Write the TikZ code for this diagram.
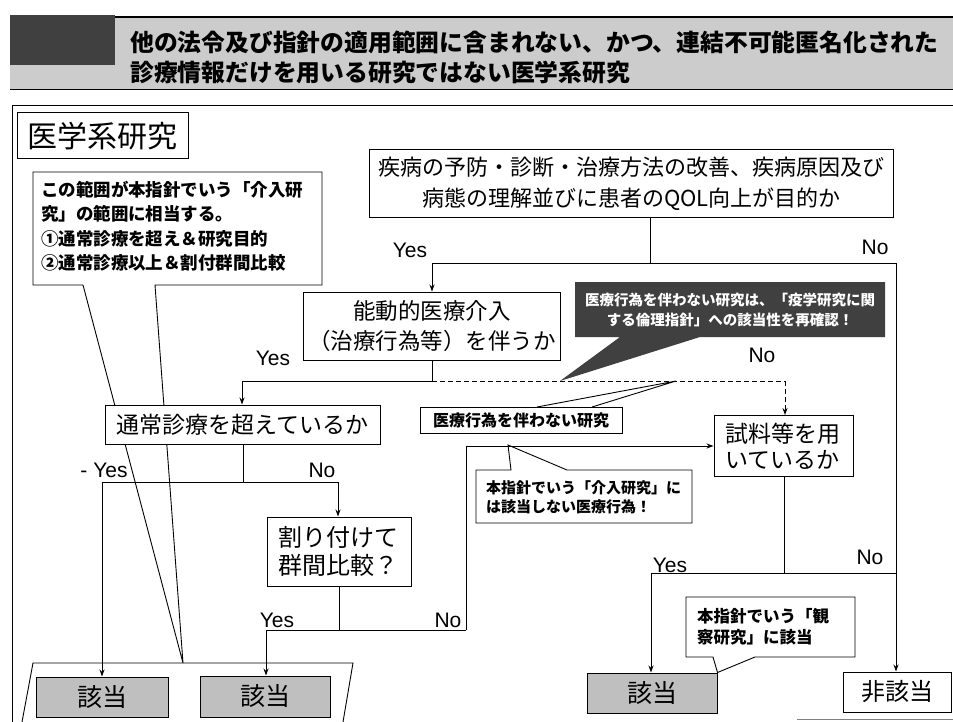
\documentclass[tikz,border=0pt]{standalone}
\usepackage{fontspec}
\setmainfont{Noto Sans CJK JP}
\newfontfamily\lat{Liberation Sans}
\usetikzlibrary{arrows.meta}
\newcommand{\fsz}[2]{\fontsize{#1}{#2}\selectfont}
\begin{document}
\begin{tikzpicture}[x=1pt,y=-1pt,
  box/.style={draw=black, line width=1pt, fill=white, inner sep=0pt, align=center},
  gbox/.style={box, fill=gray!50},
  txt/.style={inner sep=0pt, align=left},
  ln/.style={line width=0.9pt},
  conn/.style={line width=0.9pt, -{Stealth[length=7pt,width=5pt]}},
  lbl/.style={font=\lat\fsz{21}{23}, inner sep=0pt}]
\useasboundingbox (0,0) rectangle (953,722);
\fill[white] (0,0) rectangle (953,722);

% ---- title banner
\fill[gray!40] (10,17) rectangle (953,90);
\draw[line width=1.2pt] (115,17) -- (953,17);
\draw[line width=1pt] (10,90) -- (953,90);
\fill[black!75] (10,15) rectangle (115,65);
\node[txt, anchor=west, font=\bfseries\fsz{23.8}{26}] (t1) at (130,42) {他の法令及び指針の適用範囲に含まれない、かつ、連結不可能匿名化された};
\node[txt, anchor=west, font=\bfseries\fsz{23.8}{26}] (t2) at (130,72) {診療情報だけを用いる研究ではない医学系研究};

% ---- frame
\draw[ln] (12,722) -- (12,105) -- (953,105);
\draw[gray, line width=0.6pt] (797,719) -- (953,719);

% ---- nodes
\node[box, minimum width=171pt, minimum height=46pt, font=\fsz{30}{32}] (igaku) at (102.5,136) {医学系研究};

\node[txt, text width=273pt, minimum height=113pt, font=\bfseries\fsz{17.5}{24.5}] (note1) at (177.5,226) {この範囲が本指針でいう「介入研\\究」の範囲に相当する。\\①通常診療を超え＆研究目的\\②通常診療以上＆割付群間比較};
\draw[ln] (22,722) -- (33,663) -- (353,663) -- (343,722);
\coordinate (ntip) at (183,663);
\draw[ln] (33,172) -- (322,172) -- (322,285) -- (155,285) -- (ntip) -- (83,285) -- (33,285) -- cycle;

\node[box, minimum width=524pt, minimum height=68pt, font=\fsz{22}{31}] (q1) at (631.5,184) {疾病の予防・診断・治療方法の改善、疾病原因及び\\病態の理解並びに患者のQOL向上が目的か};

\node[box, minimum width=257pt, minimum height=68pt, font=\fsz{22.5}{30}] (noudou) at (432,326) {能動的医療介入\\（治療行為等）を伴うか};

\node[box, minimum width=275pt, minimum height=39pt, font=\fsz{23}{26}] (tsujo) at (242.5,424.5) {通常診療を超えているか};

\node[box, minimum width=144pt, minimum height=69pt, text width=122pt, align=left, font=\fsz{24}{28}] (wari) at (339,551.5) {割り付けて\\群間比較？};

\node[box, minimum width=139pt, minimum height=61pt, text width=116pt, align=left, font=\fsz{23}{26}] (shiryo) at (783.5,446) {試料等を用\\いているか};

\node[gbox, minimum width=132pt, minimum height=40pt, font=\fsz{25}{27}] (gaito1) at (102,697) {該当};
\node[gbox, minimum width=130pt, minimum height=41pt, font=\fsz{25}{27}] (gaito2) at (265,696.5) {該当};
\node[gbox, minimum width=130pt, minimum height=40pt, font=\fsz{25}{27}] (gaito3) at (652,693) {該当};
\node[box, minimum width=108pt, minimum height=40pt, font=\fsz{24}{26}] (higaito) at (897,692) {非該当};

% ---- dark callout
\fill[black!75] (575,282) -- (885,282) -- (885,337) -- (700,337) -- (560,381) -- (620,337) -- (575,337) -- cycle;
\node[txt, align=center, text=white, font=\bfseries\fsz{14.5}{20}] (dark) at (730,309.5) {医療行為を伴わない研究は、「疫学研究に関\\する倫理指針」への該当性を再確認！};

% ---- 医療行為 callout
\node[box, minimum width=202pt, minimum height=26pt, font=\bfseries\fsz{16}{18}] (iryo) at (521,420) {医療行為を伴わない研究};
\coordinate (irT) at (676,381);
\draw[ln] (537,407) -- (irT) -- (592,407);

% ---- 介入研究 callout
\node[txt, text width=196pt, minimum height=53pt, font=\bfseries\fsz{15}{19}] (kainyu) at (584,497) {本指針でいう「介入研究」に\\は該当しない医療行為！};
\coordinate (kT) at (508,445);
\draw[ln] (476,470) -- (511,470) -- (kT) -- (567,470) -- (692,470) -- (692,523) -- (476,523) -- cycle;

% ---- 観察研究 callout
\node[txt, text width=150pt, minimum height=60pt, font=\bfseries\fsz{16.5}{21}] (kansatsu) at (772,627) {本指針でいう「観\\察研究」に該当};
\draw[ln] (686,597) -- (855,597) -- (855,657) -- (755,657) -- (gaito3.north east) -- (713,657) -- (686,657) -- cycle;

% ---- connectors
\coordinate (j1) at (650,263);
\coordinate (j1L) at (432,263);
\coordinate (j1R) at (896,263);
\draw[ln] (q1.south -| j1) -- (j1);
\draw[ln] (j1L) -- (j1R);
\draw[conn] (j1L) -- (noudou.north -| j1L);
\draw[conn] (j1R) -- (higaito.north -| j1R);

\coordinate (j2) at (432,381);
\coordinate (j2L) at (242,381);
\coordinate (j2R) at (785,381);
\draw[ln] (noudou.south) -- (j2) -- (j2L);
\draw[conn] (j2L) -- (tsujo.north -| j2L);
\draw[ln, dashed, dash pattern=on 5pt off 3pt] (j2) -- (j2R);
\draw[conn, dash pattern=on 5pt off 3pt] (j2R) -- (shiryo.north -| j2R);

\coordinate (j3) at (243,482);
\coordinate (j3L) at (102,482);
\coordinate (j3R) at (338,482);
\draw[ln] (tsujo.south -| j3) -- (j3);
\draw[ln] (j3L) -- (j3R);
\draw[conn] (j3L) -- (gaito1.north -| j3L);
\draw[conn] (j3R) -- (wari.north -| j3R);

\coordinate (j4) at (339,630);
\coordinate (j4L) at (266,630);
\coordinate (j4R) at (466,630);
\draw[ln] (wari.south) -- (j4);
\draw[ln] (j4L) -- (j4R);
\draw[conn] (j4L) -- (gaito2.north -| j4L);
\draw[conn] (j4R) |- (shiryo.west);

\coordinate (j6) at (784,573);
\coordinate (j6L) at (651,573);
\coordinate (j6R) at (j1R |- j6);
\draw[ln] (shiryo.south -| j6) -- (j6);
\draw[ln] (j6L) -- (j6R);
\draw[conn] (j6L) -- (gaito3.north -| j6L);

% ---- labels
\node[lbl] (y1) at (410,250) {Yes};
\node[lbl] (n1) at (875,247) {No};
\node[lbl] (y2) at (273,358) {Yes};
\node[lbl] (n2) at (762,355) {No};
\node[lbl] (y3) at (104,470) {- Yes};
\node[lbl] (n3) at (322,470) {No};
\node[lbl] (y4) at (277,620) {Yes};
\node[lbl] (n4) at (448,620) {No};
\node[lbl] (y5) at (670,565) {Yes};
\node[lbl] (n5) at (870,557) {No};
\end{tikzpicture}
\end{document}
